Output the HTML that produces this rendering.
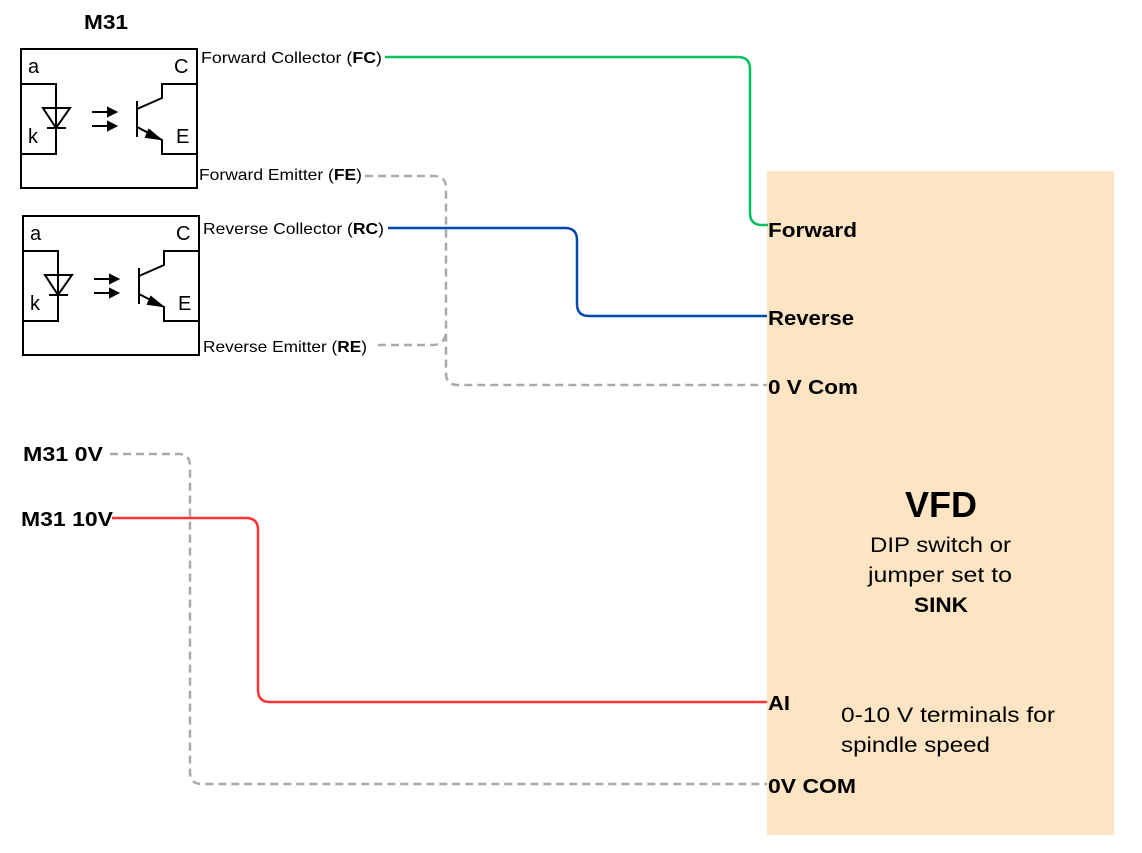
<!DOCTYPE html>
<html><head><meta charset="utf-8"><style>
body{margin:0;background:#fff;width:1142px;height:853px;overflow:hidden;font-family:"Liberation Sans",sans-serif}
</style></head><body>
<svg width="1142" height="853" xmlns="http://www.w3.org/2000/svg" style="position:absolute;left:0;top:0" font-family="Liberation Sans, sans-serif">
<rect x="767" y="171" width="347" height="664" fill="#fde5c3"/>
<text x="84" y="29" font-size="20" font-weight="bold" textLength="44" lengthAdjust="spacingAndGlyphs">M31</text>
<g id="opto" fill="none" stroke="#000" stroke-width="2">
<rect x="21" y="49" width="176" height="139"/>
<polyline points="21,84 56,84 56,154 21,154"/>
<polyline points="197,84 162,84 162,98 137,109"/>
<polyline points="137,127 162,140 162,154 197,154"/>
<line x1="137" y1="101" x2="137" y2="137"/>
<polygon points="43,108 70,108 56,128"/>
<line x1="47" y1="128" x2="66" y2="128"/>
<line x1="92" y1="112" x2="108" y2="112"/><line x1="92" y1="126" x2="108" y2="126"/>
<polygon points="108,108 116,112 108,116" fill="#000"/><polygon points="108,122 116,126 108,130" fill="#000"/>
<polygon points="149,130 160,139 146,137" fill="#000"/>
<g stroke="none" fill="#000" font-size="20"><text x="28" y="73">a</text><text x="174" y="73">C</text><text x="28" y="143">k</text><text x="176" y="143">E</text></g>
</g>
<use href="#opto" x="2" y="167"/>
<g font-size="16" fill="#000" lengthAdjust="spacingAndGlyphs">
<text x="201" y="63" textLength="181" lengthAdjust="spacingAndGlyphs">Forward Collector (<tspan font-weight="bold">FC</tspan>)</text>
<text x="199" y="180" textLength="163" lengthAdjust="spacingAndGlyphs">Forward Emitter (<tspan font-weight="bold">FE</tspan>)</text>
<text x="203" y="234" textLength="181" lengthAdjust="spacingAndGlyphs">Reverse Collector (<tspan font-weight="bold">RC</tspan>)</text>
<text x="203" y="352" textLength="164" lengthAdjust="spacingAndGlyphs">Reverse Emitter (<tspan font-weight="bold">RE</tspan>)</text>
</g>
<g fill="none" stroke-width="2.5">
<path d="M385 57 H738 Q750 57 750 69 V213 Q750 225 762 225 H768" stroke="#00c060"/>
<path d="M388 228 H565 Q577 228 577 240 V304 Q577 316 589 316 H767" stroke="#0047ab"/>
<path d="M112 518 H246 Q258 518 258 530 V690 Q258 702 270 702 H767" stroke="#ff3333"/>
<g stroke="#aaa" stroke-dasharray="8,5">
<path d="M365 176 H434 Q446 176 446 188 V373 Q446 385 458 385 H767"/>
<path d="M378 345 H432 Q446 345 446 330"/>
<path d="M110 454 H178 Q190 454 190 466 V772 Q190 784 202 784 H767"/>
</g>
</g>
<g font-size="20" font-weight="bold" fill="#000">
<text x="768" y="237" textLength="89" lengthAdjust="spacingAndGlyphs">Forward</text>
<text x="768" y="325" textLength="86" lengthAdjust="spacingAndGlyphs">Reverse</text>
<text x="768" y="394" textLength="90" lengthAdjust="spacingAndGlyphs">0 V Com</text>
<text x="768" y="710" textLength="22" lengthAdjust="spacingAndGlyphs">AI</text>
<text x="768" y="793" textLength="88" lengthAdjust="spacingAndGlyphs">0V COM</text>
<text x="23" y="461" textLength="80" lengthAdjust="spacingAndGlyphs">M31 0V</text>
<text x="21" y="526" textLength="92" lengthAdjust="spacingAndGlyphs">M31 10V</text>
</g>
<text x="905" y="517" font-size="36" font-weight="bold" textLength="72" lengthAdjust="spacingAndGlyphs">VFD</text>
<g font-size="21">
<text x="870" y="552" textLength="141" lengthAdjust="spacingAndGlyphs">DIP switch or</text>
<text x="868" y="582" textLength="144" lengthAdjust="spacingAndGlyphs">jumper set to</text>
<text x="914" y="612" font-weight="bold" textLength="54" lengthAdjust="spacingAndGlyphs">SINK</text>
<text x="841" y="722" textLength="214" lengthAdjust="spacingAndGlyphs">0-10 V terminals for</text>
<text x="841" y="752" textLength="149" lengthAdjust="spacingAndGlyphs">spindle speed</text>
</g>
</svg>
</body></html>
